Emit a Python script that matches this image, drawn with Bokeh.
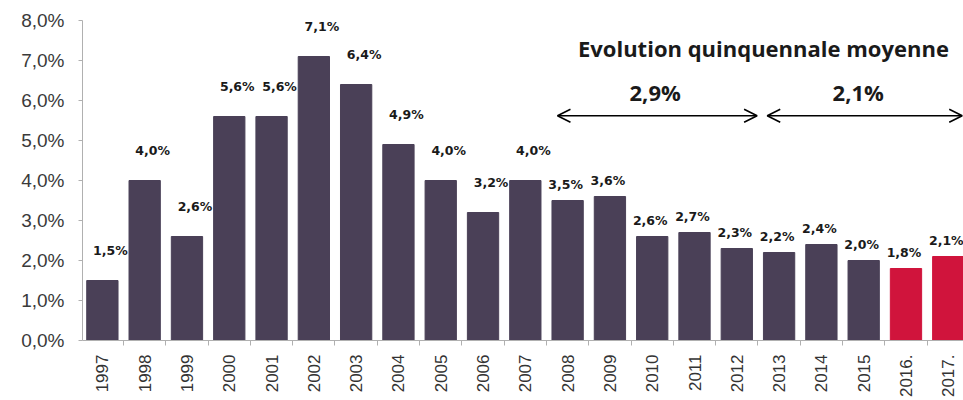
import math
from bokeh.plotting import figure
from bokeh.models import (ColumnDataSource, FixedTicker, CustomJSTickFormatter,
                          Range1d, Arrow, OpenHead, Label)
from bokeh.core.properties import value
from bokeh.embed import file_html
from bokeh.resources import INLINE

# Annual growth rate (%)
years = ["1997", "1998", "1999", "2000", "2001", "2002", "2003", "2004", "2005",
         "2006", "2007", "2008", "2009", "2010", "2011", "2012", "2013", "2014",
         "2015", "2016.", "2017."]
rates = [1.5, 4.0, 2.6, 5.6, 5.6, 7.1, 6.4, 4.9, 4.0, 3.2, 4.0, 3.5, 3.6,
         2.6, 2.7, 2.3, 2.2, 2.4, 2.0, 1.8, 2.1]
estimated = [False] * 19 + [True, True]

# Five-year average growth
period_title = "Evolution quinquennale moyenne"
period_labels = ["2,9%", "2,1%"]

DARK = "#4a4057"
RED = "#d0143c"

idx = list(range(len(years)))
labels = [f"{v:.1f}".replace(".", ",") + "%" for v in rates]
colors = [RED if e else DARK for e in estimated]

src = ColumnDataSource(dict(x=idx, y=rates, label=labels, color=colors))

p = figure(width=963, height=400, output_backend="svg", toolbar_location=None,
           x_range=Range1d(-0.47, 20.36), y_range=Range1d(0, 8),
           min_border_left=82, min_border_right=0, min_border_top=20,
           min_border_bottom=52)
p.outline_line_color = None
p.background_fill_color = "white"
p.border_fill_color = "white"
p.xgrid.visible = False
p.ygrid.visible = False

p.vbar(x="x", top="y", width=0.74, color="color", source=src)

# value labels: first decade a bit higher and to the right, later ones closer
early = ColumnDataSource(dict(x=idx[:11], y=rates[:11], label=labels[:11]))
late = ColumnDataSource(dict(x=idx[11:], y=rates[11:], label=labels[11:]))
for s, dx, dy in ((early, 8, -30), (late, -2, -16)):
    p.text(x="x", y="y", text="label", source=s, x_offset=dx, y_offset=dy,
           text_align="center", text_baseline="middle",
           text_font=value("DejaVu Sans"), text_font_style="bold",
           text_font_size="12.5px", text_color="#1a1a1a")

# y axis
p.yaxis.ticker = FixedTicker(ticks=list(range(0, 9)))
p.yaxis.formatter = CustomJSTickFormatter(
    code="return tick.toFixed(1).replace('.', ',') + '%';")
p.yaxis.major_label_text_font = "Liberation Sans"
p.yaxis.major_label_text_font_size = "19px"
p.yaxis.major_label_text_color = "#3a3a3a"
p.yaxis.axis_line_color = "#b0b0b0"
p.yaxis.major_tick_line_color = "#b0b0b0"
p.yaxis.major_tick_out = 4
p.yaxis.major_tick_in = 0
p.yaxis.minor_tick_line_color = None
p.yaxis.major_label_standoff = 14

# x axis: years read bottom to top
p.xaxis.ticker = FixedTicker(ticks=idx, minor_ticks=[i + 0.5 for i in [-1] + idx])
p.xaxis.major_label_overrides = {i: y for i, y in zip(idx, years)}
p.xaxis.major_label_orientation = math.pi / 2
p.xaxis.major_label_text_font = "Liberation Sans"
p.xaxis.major_label_text_font_size = "17px"
p.xaxis.major_label_text_color = "#333333"
p.xaxis.axis_line_color = "#b0b0b0"
p.xaxis.major_tick_line_color = None
p.xaxis.minor_tick_line_color = "#b0b0b0"
p.xaxis.minor_tick_out = 5
p.xaxis.minor_tick_in = 0
p.xaxis.major_label_standoff = 8

# five-year period annotations
head = dict(size=13, line_width=1.6, line_color="black")
p.add_layout(Arrow(start=OpenHead(**head), end=OpenHead(**head),
                   x_start=10.76, x_end=15.48, y_start=5.62, y_end=5.62,
                   line_width=1.6, line_color="black"))
p.add_layout(Arrow(start=OpenHead(**head), end=OpenHead(**head),
                   x_start=15.72, x_end=20.33, y_start=5.62, y_end=5.62,
                   line_width=1.6, line_color="black"))

p.add_layout(Label(x=15.63, y=7.32, text=period_title, text_align="center",
                   text_baseline="middle", text_font="Open Sans",
                   text_font_style="bold", text_font_size="22px",
                   text_color="#1a1a1a"))
for xc, t in zip((13.07, 17.87), period_labels):
    p.add_layout(Label(x=xc, y=6.22, text=t, text_align="center",
                       text_baseline="middle", text_font="Open Sans",
                       text_font_style="bold", text_font_size="22px",
                       text_color="#1a1a1a"))

open("out.html", "w").write(file_html(p, INLINE))
